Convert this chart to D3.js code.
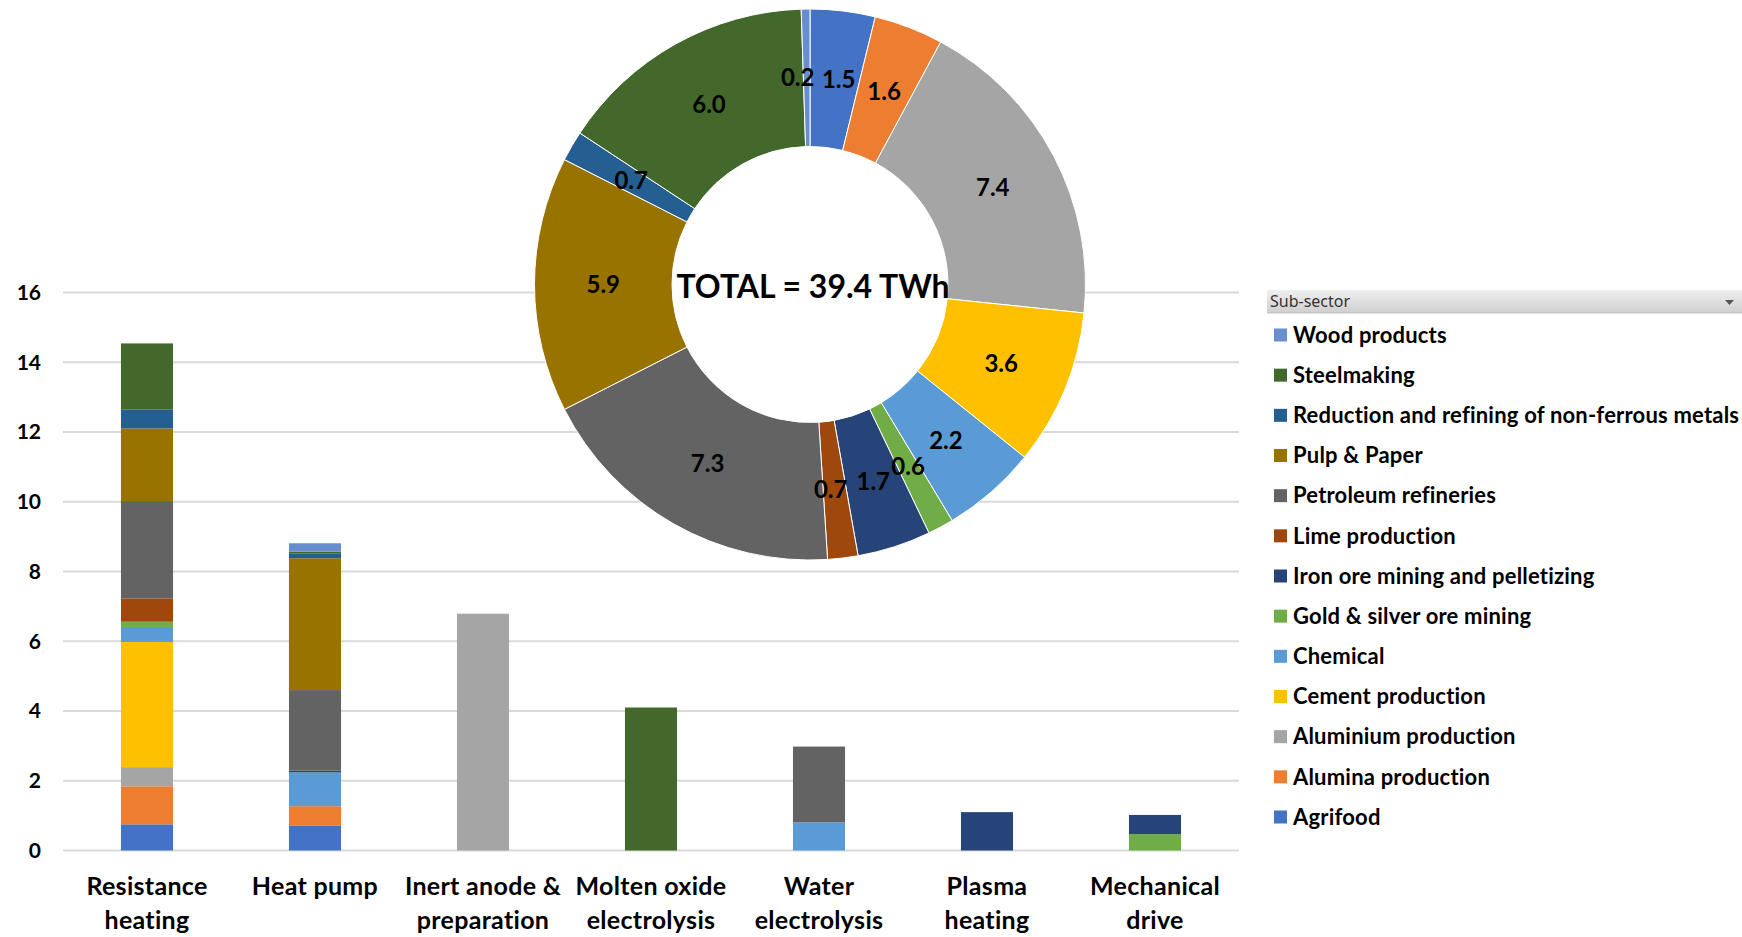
<!DOCTYPE html>
<html>
<head>
<meta charset="utf-8">
<script src="https://cdn.jsdelivr.net/npm/d3@7"></script>
<style>
html,body{margin:0;padding:0;background:#fff;}
svg{display:block;font-family:Lato,"Open Sans",sans-serif;}
</style>
</head>
<body>
<svg id="chart" width="1742" height="937"></svg>
<script>
// ---------- DATA ----------
const categories = ["Resistance heating","Heat pump","Inert anode & preparation","Molten oxide electrolysis","Water electrolysis","Plasma heating","Mechanical drive"];
const categoryLines = [["Resistance","heating"],["Heat pump"],["Inert anode &","preparation"],["Molten oxide","electrolysis"],["Water","electrolysis"],["Plasma","heating"],["Mechanical","drive"]];

// stacking order, bottom to top
const subsectors = ["Agrifood","Alumina production","Aluminium production","Cement production","Chemical","Gold & silver ore mining","Iron ore mining and pelletizing","Lime production","Petroleum refineries","Pulp & Paper","Reduction and refining of non-ferrous metals","Steelmaking","Wood products"];
const colors = ["#4472C4","#ED7D31","#A5A5A5","#FFC000","#5B9BD5","#70AD47","#264478","#9E480E","#636363","#997300","#255E91","#43682B","#698ED0"];

// values (TWh) per subsector, across categories
const agrifood     = [0.75, 0.72, 0,    0,    0,    0,    0];
const alumina      = [1.09, 0.55, 0,    0,    0,    0,    0];
const aluminium    = [0.55, 0,    6.79, 0,    0,    0,    0];
const cement       = [3.59, 0,    0,    0,    0,    0,    0];
const chemical     = [0.43, 0.97, 0,    0,    0.81, 0,    0];
const goldSilver   = [0.15, 0,    0,    0,    0,    0,    0.47];
const ironOre      = [0,    0.05, 0,    0,    0,    1.10, 0.55];
const lime         = [0.67, 0,    0,    0,    0,    0,    0];
const petroleum    = [2.79, 2.31, 0,    0,    2.17, 0,    0];
const pulpPaper    = [2.08, 3.78, 0,    0,    0,    0,    0];
const reduction    = [0.55, 0.13, 0,    0,    0,    0,    0];
const steelmaking  = [1.89, 0.06, 0,    4.10, 0,    0,    0];
const woodProducts = [0,    0.24, 0,    0,    0,    0,    0];
const seriesValues = [agrifood, alumina, aluminium, cement, chemical, goldSilver, ironOre, lime, petroleum, pulpPaper, reduction, steelmaking, woodProducts];

// donut totals (same subsector order), TWh
const donutValues = [1.5, 1.6, 7.4, 3.6, 2.2, 0.6, 1.7, 0.7, 7.3, 5.9, 0.7, 6.0, 0.2];
const totalLabel = "TOTAL = 39.4 TWh";
const yTicks = [0, 2, 4, 6, 8, 10, 12, 14, 16];
const legendTitle = "Sub-sector";

// ---------- CHART ----------
const svg = d3.select("#chart");
const bold = "700";

const x = d3.scaleBand().domain(categories).range([63, 1239]).padding(0);
const y = d3.scaleLinear().domain([0, 16]).range([850.5, 292.5]);
const barW = x.bandwidth() * 0.31;

// gridlines
svg.append("g").selectAll("line").data(yTicks).join("line")
  .attr("x1", 63).attr("x2", 1239)
  .attr("y1", d => y(d)).attr("y2", d => y(d))
  .attr("stroke", "#d9d9d9").attr("stroke-width", 2);

// y tick labels
svg.append("g").selectAll("text").data(yTicks).join("text")
  .attr("x", 41).attr("y", d => y(d)).attr("dy", "0.35em")
  .attr("text-anchor", "end").attr("font-size", 21).attr("font-weight", bold)
  .attr("fill", "#000").text(d => d);

// stacked bars
const table = categories.map((c, i) => {
  const o = { category: c };
  subsectors.forEach((s, j) => o[s] = seriesValues[j][i]);
  return o;
});
const stacked = d3.stack().keys(subsectors)(table);
const gBars = svg.append("g");
stacked.forEach((layer, j) => {
  gBars.append("g").attr("fill", colors[j]).selectAll("rect")
    .data(layer.filter(d => d[1] - d[0] > 0)).join("rect")
    .attr("x", d => x(d.data.category) + (x.bandwidth() - barW) / 2)
    .attr("width", barW)
    .attr("y", d => y(d[1]))
    .attr("height", d => y(d[0]) - y(d[1]));
});

// x labels
const gx = svg.append("g");
categories.forEach((c, i) => {
  const cx = x(c) + x.bandwidth() / 2;
  categoryLines[i].forEach((line, k) => {
    gx.append("text").attr("x", cx).attr("y", 886 + k * 34).attr("dy", "0.35em")
      .attr("text-anchor", "middle").attr("font-size", 25).attr("font-weight", bold)
      .attr("letter-spacing", 0.3)
      .attr("fill", "#000").text(line);
  });
});

// ---------- DONUT ----------
const cx0 = 810, cy0 = 284.5, rOut = 275.5, rIn = 138;
const pie = d3.pie().sort(null).value(d => d)(donutValues);
const arc = d3.arc().innerRadius(rIn).outerRadius(rOut);
const labelArc = d3.arc().innerRadius((rIn + rOut) / 2).outerRadius((rIn + rOut) / 2);
const gD = svg.append("g").attr("transform", `translate(${cx0},${cy0})`);
gD.append("circle").attr("r", rIn).attr("fill", "#fff");
gD.selectAll("path").data(pie).join("path")
  .attr("d", arc).attr("fill", (d, i) => colors[i])
  .attr("stroke", "#fff").attr("stroke-width", 1);
const nudge = { "Wood products": -9, "Agrifood": 4, "Lime production": -4 };
gD.selectAll("text.lbl").data(pie).join("text").attr("class", "lbl")
  .attr("x", (d, i) => labelArc.centroid(d)[0] + (nudge[subsectors[i]] || 0))
  .attr("y", d => labelArc.centroid(d)[1]).attr("dy", "0.35em")
  .attr("text-anchor", "middle").attr("font-size", 24).attr("font-weight", bold)
  .attr("fill", "#000").text(d => d3.format(".1f")(d.data));
gD.append("text").attr("x", 3).attr("y", 2).attr("dy", "0.35em")
  .attr("text-anchor", "middle").attr("font-size", 32).attr("font-weight", bold)
  .attr("fill", "#000").text(totalLabel);

// ---------- LEGEND ----------
const defs = svg.append("defs");
const grad = defs.append("linearGradient").attr("id", "hdr").attr("x1", 0).attr("x2", 0).attr("y1", 0).attr("y2", 1);
grad.append("stop").attr("offset", "0%").attr("stop-color", "#efefef");
grad.append("stop").attr("offset", "100%").attr("stop-color", "#cfcfcf");
const gL = svg.append("g");
gL.append("rect").attr("x", 1267).attr("y", 290).attr("width", 475).attr("height", 23).attr("fill", "url(#hdr)");
gL.append("line").attr("x1", 1267).attr("x2", 1742).attr("y1", 313).attr("y2", 313).attr("stroke", "#bdbdbd");
gL.append("text").attr("x", 1270).attr("y", 301.5).attr("dy", "0.35em")
  .attr("font-size", 16).attr("fill", "#333").attr("font-family", "'Liberation Sans Narrow','Noto Sans',sans-serif").text(legendTitle);
gL.append("path").attr("d", "M1725,300 L1734,300 L1729.5,305 Z").attr("fill", "#555");

const legendOrder = subsectors.map((s, i) => i).reverse();
const ly = d3.scalePoint().domain(legendOrder).range([335, 817]);
legendOrder.forEach(i => {
  const yy = ly(i);
  gL.append("rect").attr("x", 1274).attr("y", yy - 6.5).attr("width", 13).attr("height", 13).attr("fill", colors[i]);
  gL.append("text").attr("x", 1293).attr("y", yy).attr("dy", "0.35em")
    .attr("font-size", 22).attr("font-weight", bold).attr("letter-spacing", 0.2)
    .attr("fill", "#000").text(subsectors[i]);
});
</script>
</body>
</html>
